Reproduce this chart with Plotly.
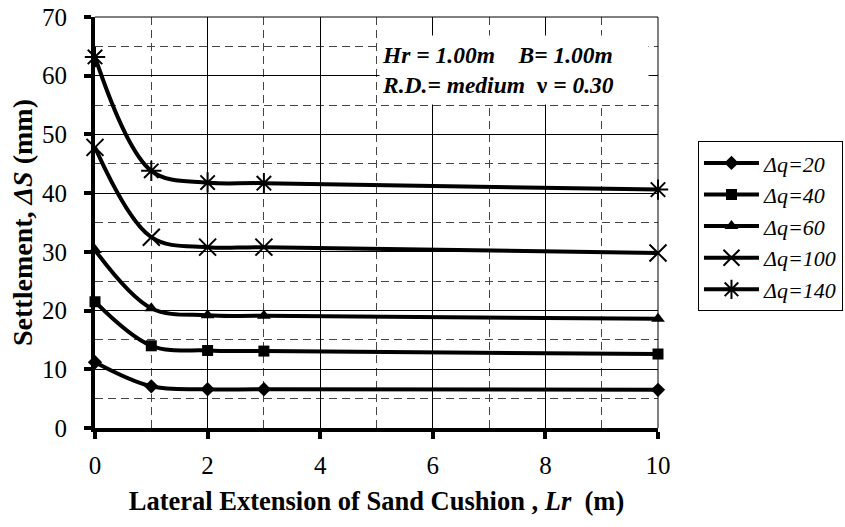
import plotly.graph_objects as go

# Lateral extension of the sand cushion, Lr (m)
lr = [0, 1, 2, 3, 10]

# Settlement ΔS (mm) for each stress increment Δq
s_q20 = [11.2, 7.1, 6.6, 6.6, 6.5]
s_q40 = [21.5, 14.0, 13.2, 13.1, 12.6]
s_q60 = [30.3, 20.4, 19.2, 19.1, 18.6]
s_q100 = [47.8, 32.5, 30.8, 30.8, 29.8]
s_q140 = [63.2, 43.8, 41.8, 41.7, 40.6]

series_names = ["Δq=20", "Δq=40", "Δq=60", "Δq=100", "Δq=140"]
series_values = [s_q20, s_q40, s_q60, s_q100, s_q140]

x_ticks = [0, 2, 4, 6, 8, 10]
y_ticks = [0, 10, 20, 30, 40, 50, 60, 70]

FONT = "Liberation Serif"

marker_styles = [
    dict(symbol="diamond", size=11, color="black"),
    dict(symbol="square", size=11, color="black"),
    dict(symbol="triangle-up", size=12, color="black"),
    dict(symbol="x-thin-open", size=17, color="black", line=dict(width=2, color="black")),
    dict(symbol="asterisk-open", size=17, color="black", line=dict(width=2, color="black")),
]

fig = go.Figure()
for i, (name, vals) in enumerate(zip(series_names, series_values)):
    fig.add_trace(go.Scatter(
        x=lr, y=vals, name=f"<i>{name}</i>", mode="lines+markers",
        line=dict(color="black", width=4, shape="spline", smoothing=1.0),
        marker=marker_styles[i], legendgroup=f"g{i}", cliponaxis=False,
    ))

fig.update_layout(
    width=845, height=527,
    margin=dict(l=95, r=187, t=17, b=99, autoexpand=False),
    paper_bgcolor="white", plot_bgcolor="white",
    font=dict(family=FONT, color="black", size=22),
    showlegend=True,
    legend=dict(
        x=1.071, y=0.698, xanchor="left", yanchor="top",
        bgcolor="white", bordercolor="black", borderwidth=1,
        font=dict(family=FONT, size=22, color="black"),
        tracegroupgap=0, traceorder="grouped", itemwidth=55,
    ),
)

fig.update_xaxes(
    range=[0, 10], tickvals=x_ticks, ticktext=[str(v) for v in x_ticks],
    showline=True, linecolor="black", linewidth=4,
    ticks="outside", ticklen=7, tickwidth=4, tickcolor="black",
    tickfont=dict(family=FONT, size=25), ticklabelstandoff=5,
    showgrid=True, gridcolor="black", gridwidth=1,
    minor=dict(dtick=1, showgrid=True, gridcolor="#444444", griddash="8px,5px", gridwidth=1),
    zeroline=False,
    title=dict(text="<b>Lateral Extension of Sand Cushion , <i>Lr</i>  (m)</b>",
               font=dict(family=FONT, size=26.5), standoff=14),
)
fig.update_yaxes(
    range=[0, 70], tickvals=y_ticks, ticktext=[str(v) for v in y_ticks],
    showline=True, linecolor="black", linewidth=4,
    ticks="outside", ticklen=7, tickwidth=4, tickcolor="black",
    tickfont=dict(family=FONT, size=25), ticklabelstandoff=12,
    showgrid=True, gridcolor="black", gridwidth=1,
    minor=dict(dtick=5, showgrid=True, gridcolor="#444444", griddash="8px,5px", gridwidth=1),
    zeroline=False,
    title=dict(text="<b>Settlement, <i>ΔS</i> (mm)</b>",
               font=dict(family=FONT, size=28), standoff=2),
)

# thin frame on the top and right of the plotting area
fig.add_shape(type="line", xref="paper", yref="paper", x0=0, x1=1, y0=1, y1=1,
              line=dict(color="black", width=1))
fig.add_shape(type="line", xref="paper", yref="paper", x0=1, x1=1, y0=0, y1=1,
              line=dict(color="black", width=1))

# parameter box
fig.add_annotation(
    xref="paper", yref="paper", x=0.5044, y=0.956, xanchor="left", yanchor="top",
    align="left", valign="middle", showarrow=False, bgcolor="white", borderpad=2,
    width=264, height=64,
    font=dict(family=FONT, size=23.5, color="black"),
    text="<b><i>Hr = 1.00m\u00a0\u00a0\u00a0\u00a0B= 1.00m</i></b><br>"
         "<b><i>R.D.= medium\u00a0\u00a0</i>ν<i> = 0.30</i></b>",
)

fig.write_html("out.html")
